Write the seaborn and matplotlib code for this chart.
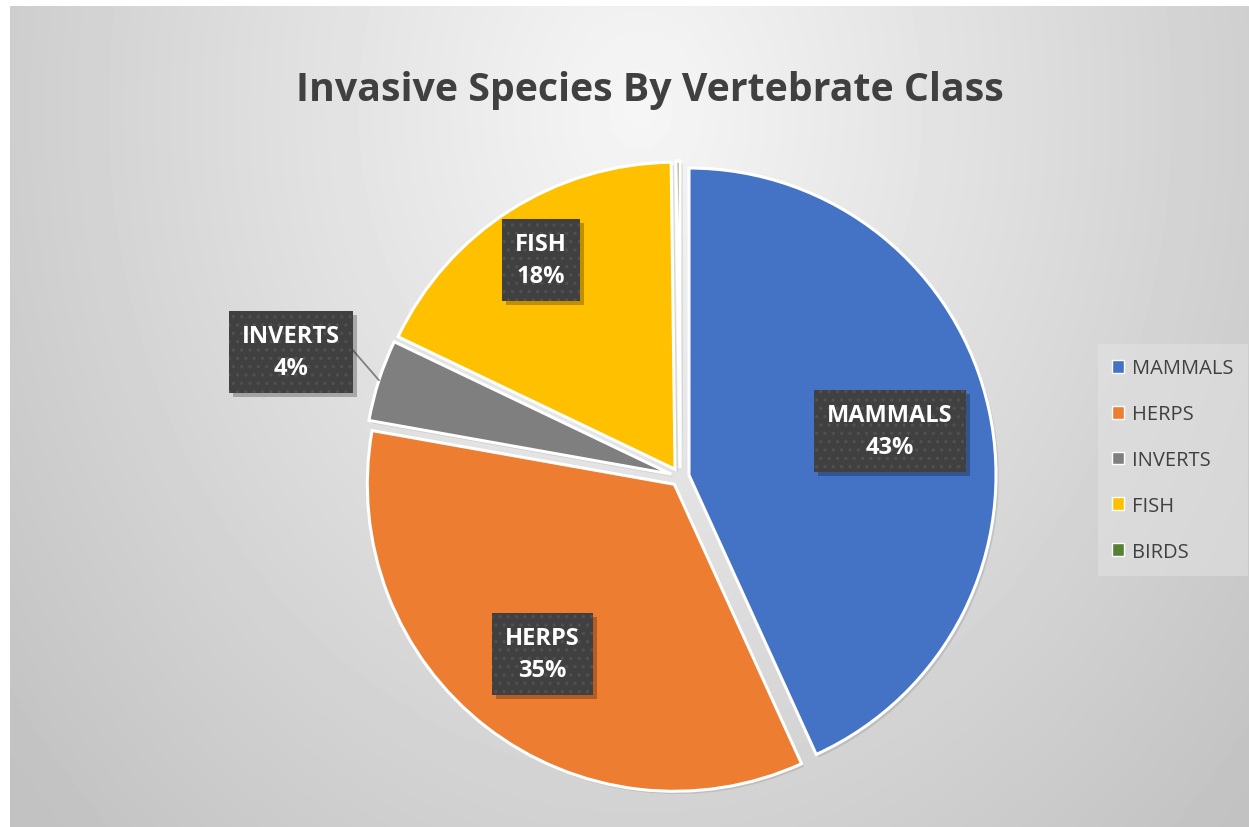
import numpy as np
import matplotlib
matplotlib.use('Agg')
import matplotlib.pyplot as plt
import matplotlib.patheffects as pe
from matplotlib.transforms import Affine2D
import seaborn as sns

sns.set_theme(style='white')
plt.rcParams['font.family'] = ['Open Sans', 'DejaVu Sans']
plt.rcParams['hatch.linewidth'] = 1.2

# data (share of invasive species, %)
categories = ['MAMMALS', 'HERPS', 'INVERTS', 'FISH', 'BIRDS']
shares = [43.2, 34.6, 4.3, 17.7, 0.2]
colours = ['#4472C4', '#ED7D31', '#7F7F7F', '#FFC000', '#548235']
title = 'Invasive Species By Vertebrate Class'

# label distance from centre (fraction of radius); None = no label
label_dist = [0.67, 0.70, 1.30, 0.81, None]


class BoxShadow(pe.AbstractPathEffect):
    """plain drop shadow, without the hatch of the box"""
    def __init__(self, offset=(4, -4), alpha=0.25):
        super().__init__()
        self._off = offset
        self._alpha = alpha

    def draw_path(self, renderer, gc, tpath, affine, rgbFace=None):
        gc0 = renderer.new_gc()
        gc0.copy_properties(gc)
        gc0.set_hatch(None)
        gc0.set_linewidth(0)
        gc0.set_alpha(self._alpha)
        affine0 = affine + Affine2D().translate(*self._off)
        renderer.draw_path(gc0, tpath, affine0, (0, 0, 0))
        gc0.restore()


W, H = 1249, 828
fig = plt.figure(figsize=(W / 100, H / 100), dpi=100, facecolor='white')

# radial grey background of chart area
bg = fig.add_axes([10 / W, 0, 1 - 10 / W, (H - 7) / H])
yy, xx = np.mgrid[0:H - 7, 0:W - 10]
d = np.sqrt(((xx + 10 - 640) / 680.0) ** 2 + ((yy + 7 - 110) / 850.0) ** 2)
shade = 0.965 - 0.17 * np.clip(d, 0, 1.2)
bg.imshow(shade, cmap='gray', vmin=0, vmax=1, aspect='auto', interpolation='bilinear')
bg.axis('off')

fig.text(650 / W, 1 - 90 / H, title, ha='center', va='center', fontsize=28.3,
         fontweight='bold', color='#404040')

# pie
cx, cy, side = 680, 478, 700
ax = fig.add_axes([(cx - side / 2) / W, (H - cy - side / 2) / H, side / W, side / H])
lim = 1.14
wedges, _ = ax.pie(shares, colors=colours, startangle=90, counterclock=False,
                   explode=[0.03] * len(shares),
                   wedgeprops=dict(edgecolor='white', linewidth=2.2))
for w in wedges:
    w.set_path_effects([pe.SimplePatchShadow(offset=(2, -2), alpha=0.12), pe.Normal()])
ax.set_xlim(-lim, lim)
ax.set_ylim(-lim, lim)
ax.set_aspect('equal')
ax.axis('off')

for w, cat, val, dist in zip(wedges, categories, shares, label_dist):
    if dist is None:
        continue
    ang = np.deg2rad((w.theta1 + w.theta2) / 2)
    ox, oy = 0.03 * np.cos(ang), 0.03 * np.sin(ang)
    x, y = ox + dist * np.cos(ang), oy + dist * np.sin(ang)
    t = ax.text(x, y, f'{cat}\n{val:.0f}%', ha='center', va='center', fontsize=17,
                fontweight='bold', linespacing=1.45, color='white', zorder=5,
                bbox=dict(boxstyle='square,pad=0.55', facecolor='#404040',
                          edgecolor='#505050', linewidth=0, hatch='..'))
    t.get_bbox_patch().set_path_effects([BoxShadow(), pe.Normal()])
    if dist > 1:
        # leader line from box to slice edge
        ex, ey = ox + 1.0 * np.cos(ang), oy + 1.0 * np.sin(ang)
        ax.plot([x + 0.18, ex], [y + 0.03, ey], color='#7f7f7f', lw=1.3, zorder=4)

# legend
handles = [plt.Rectangle((0, 0), 1, 1, facecolor=c, edgecolor='white', lw=1) for c in colours]
leg = fig.legend(handles, categories, loc='center left', bbox_to_anchor=(1088 / W, 1 - 461 / H),
                 frameon=True, fontsize=14.5, labelspacing=1.28, handlelength=0.6,
                 handleheight=0.6, handletextpad=0.4, borderpad=0.7, fancybox=False)
leg.get_frame().set_facecolor('#e4e4e4')
leg.get_frame().set_edgecolor('none')
leg.get_frame().set_alpha(0.5)
for txt in leg.get_texts():
    txt.set_color('#404040')

fig.savefig('out.png', dpi=100, facecolor='white')
